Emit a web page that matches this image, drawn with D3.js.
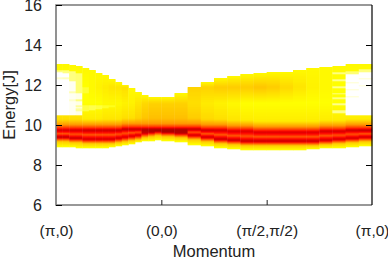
<!DOCTYPE html>
<html>
<head>
<meta charset="utf-8">
<script src="https://cdn.jsdelivr.net/npm/d3@7"></script>
<style>
html, body { margin: 0; padding: 0; background: white; }
svg text { font-family: "Liberation Sans", sans-serif; fill: #222; }
</style>
</head>
<body>
<div id="chart"></div>
<script>
// momentum path tick labels, energy ticks
const kTicks = [0, 8, 16, 24];
const kLabels = ["(π,0)", "(0,0)", "(π/2,π/2)", "(π,0)"];
const energyTicks = [6, 8, 10, 12, 14, 16];

// column edges along the path: half steps on the first leg
const kEdges = [0, .5, 1, 1.5, 2, 2.5, 3, 3.5, 4, 4.5, 5, 5.5, 6, 6.5, 7, 7.5, 8,
  9, 10, 11, 12, 13, 14, 15, 16, 17, 18, 19, 20, 21, 22, 23, 24];

// per column
const eTop = [13.05, 13.05, 13.0, 12.95, 12.85, 12.75, 12.6, 12.5, 12.3, 12.15, 12.0, 11.85, 11.65, 11.5, 11.4, 11.4,
  11.4, 11.6, 11.9, 12.15, 12.35, 12.45, 12.55, 12.6, 12.65, 12.65, 12.75, 12.85, 12.9, 12.95, 13.05, 13.05];
const eBot = [8.9, 8.9, 8.9, 8.85, 8.85, 8.85, 8.85, 8.85, 8.9, 8.95, 9.0, 9.05, 9.15, 9.2, 9.2, 9.25,
  9.2, 9.15, 9.0, 8.95, 8.85, 8.8, 8.75, 8.75, 8.75, 8.75, 8.75, 8.8, 8.85, 8.85, 8.9, 8.95];
const bandHi = [9.75, 9.75, 9.75, 9.75, 9.75, 9.75, 9.75, 9.75, 9.75, 9.75, 9.8, 9.8, 9.8, 9.8, 9.8, 9.8,
  9.8, 9.8, 9.8, 9.75, 9.75, 9.7, 9.7, 9.65, 9.65, 9.65, 9.65, 9.65, 9.7, 9.7, 9.75, 9.75];
const bandLo = [9.4, 9.4, 9.35, 9.35, 9.3, 9.3, 9.3, 9.3, 9.3, 9.35, 9.4, 9.45, 9.5, 9.6, 9.65, 9.7,
  9.65, 9.6, 9.5, 9.4, 9.3, 9.25, 9.2, 9.2, 9.2, 9.2, 9.2, 9.2, 9.25, 9.3, 9.35, 9.4];
const hiLevel = [3.5, 3.5, 3.5, 3.5, 3.6, 3.6, 3.6, 3.6, 3.6, 3.6, 3.7, 3.7, 3.7, 3.8, 3.8, 3.8,
  3.8, 3.8, 3.7, 3.6, 3.5, 3.4, 3.4, 3.4, 3.4, 3.4, 3.4, 3.4, 3.5, 3.5, 3.6, 3.7];
const loLevel = [3.7, 3.7, 3.6, 3.6, 3.5, 3.5, 3.5, 3.5, 3.5, 3.5, 3.4, 3.4, 3.4, 3.5, 3.7, 3.8,
  3.8, 3.7, 3.5, 3.5, 3.6, 3.6, 3.6, 3.6, 3.6, 3.6, 3.6, 3.6, 3.5, 3.5, 3.5, 3.5];
const midLevel = [1.1, 1.1, 1.1, 1.1, 1.0, 1.0, 1.0, 1.05, 1.05, 1.05, 1.1, 1.1, 1.2, 1.3, 1.35, 1.35,
  1.35, 1.35, 1.25, 1.15, 1.1, 1.05, 1.0, 1.0, 1.0, 1.0, 1.0, 1.0, 1.0, 1.0, 1.0, 1.0];
const upLevel = [1.0, 1.0, 1.0, 1.0, 1.0, 1.05, 1.1, 1.15, 1.2, 1.2, 1.25, 1.3, 1.35, 1.35, 1.35, 1.35,
  1.35, 1.35, 1.35, 1.35, 1.4, 1.4, 1.4, 1.45, 1.4, 1.3, 1.2, 1.1, 1.05, 1.0, 1.0, 1.0];

// pale and white patches: column, energy from, energy to, level
const patches = [
  [0, 10.5, 12.65, 0], [1, 10.5, 12.6, 0], [2, 10.5, 12.2, .05], [3, 10.5, 11.6, .1],
  [0, 12.65, 12.75, .5], [1, 12.6, 12.75, .5], [0, 12.3, 12.4, .2], [1, 12.3, 12.4, .25],
  [2, 12.2, 12.7, .5], [2, 11.6, 11.7, .3], [2, 11.2, 11.3, .2],
  [3, 11.6, 12.6, .55], [3, 11.2, 11.3, .5], [3, 10.9, 11.0, .4], [3, 10.7, 10.85, .4],
  [4, 10.7, 11.0, .75], [4, 11.6, 11.9, .8], [5, 10.75, 11.0, .7], [6, 10.8, 11.0, .75], [7, 10.85, 11.0, .85], [8, 10.9, 11.0, .9],
  [30, 10.5, 12.55, 0], [31, 10.5, 12.65, 0], [30, 12.55, 12.7, .55], [31, 12.65, 12.8, .5],
  [30, 12.1, 12.15, .2], [30, 11.75, 11.8, .2], [30, 11.4, 11.45, .2], [31, 12.3, 12.35, .2], [31, 11.95, 12.0, .15],
  [29, 10.6, 10.75, .45], [29, 11.0, 11.1, .45], [29, 11.3, 11.4, .5], [29, 11.55, 11.6, .5], [29, 11.85, 11.95, .45], [29, 12.2, 12.3, .45], [29, 12.55, 12.65, .5]
];

const width = 388, height = 260;
const margin = { top: 5, left: 56, right: 16, bottom: 55 };

let svg = d3.select("#chart")
  .append("svg")
  .attr("width", width)
  .attr("height", height);

const x = d3.scaleLinear().domain([0, 24]).range([margin.left, width - margin.right]);
const y = d3.scaleLinear().domain([6, 16]).range([height - margin.bottom, margin.top]);
const color = d3.scaleLinear()
  .domain([0, 1, 3, 4])
  .range(["#ffffff", "#ffff00", "#ff0000", "#990000"])
  .clamp(true);

// stops of one column's vertical profile
function columnStops(i) {
  let stops = [
    [eBot[i], 0.95],
    [bandLo[i] - 0.22, 1.4],
    [bandLo[i] - 0.1, 2.4],
    [bandLo[i], loLevel[i]],
    [bandHi[i], hiLevel[i]],
    [bandHi[i] + 0.1, 2.7],
    [bandHi[i] + 0.28, 1.8],
    [bandHi[i] + 0.55, midLevel[i] + 0.15],
    [11.1, midLevel[i]],
    [11.9, upLevel[i]],
    [eTop[i], 1.05]
  ];
  if (bandHi[i] - bandLo[i] > 0.25) {
    stops.push([(bandHi[i] + bandLo[i]) / 2, 2.3]);
  }
  stops = stops.filter(s => s[0] <= eTop[i]).sort((a, b) => a[0] - b[0]);
  return stops;
}

const rowStep = 0.05;
const cells = [];
kEdges.slice(0, -1).forEach((k, i) => {
  const stops = columnStops(i);
  const profile = d3.scaleLinear().domain(stops.map(s => s[0])).range(stops.map(s => s[1]));
  d3.range(eBot[i], eTop[i] - 0.001, rowStep).forEach(e => {
    let level = profile(e + rowStep / 2);
    patches.filter(p => p[0] == i && e + rowStep / 2 >= p[1] && e + rowStep / 2 < p[2])
      .forEach(p => { level = p[3]; });
    cells.push({ k0: k, k1: kEdges[i + 1], e: e, level: level });
  });
});

svg.append("g")
  .selectAll("rect")
  .data(cells)
  .join("rect")
  .attr("x", d => x(d.k0))
  .attr("width", d => x(d.k1) - x(d.k0) + 0.3)
  .attr("y", d => y(d.e + rowStep))
  .attr("height", y(0) - y(rowStep) + 0.3)
  .attr("fill", d => color(d.level));

// frame: grey on three sides, the right one is black
const frame = svg.append("g").attr("fill", "none");
frame.append("path")
  .attr("d", `M${x(24)},${y(16)}H${x(0)}V${y(6)}H${x(24)}`)
  .attr("stroke", "#777")
  .attr("stroke-width", 1.6);
frame.append("line")
  .attr("x1", x(24)).attr("x2", x(24))
  .attr("y1", y(16)).attr("y2", y(6))
  .attr("stroke", "#000")
  .attr("stroke-width", 1.2);

// Adding the Y axis
const yAxis = svg.append("g")
  .attr("transform", `translate(${margin.left}, 0)`)
  .call(d3.axisLeft(y).tickValues(energyTicks).tickFormat(d3.format("d")).tickSize(-6).tickPadding(14));
yAxis.select(".domain").remove();
yAxis.selectAll("line").attr("stroke", "#000");
yAxis.selectAll("text").style("font-size", "16px");

// mirror ticks on the right
svg.append("g")
  .attr("transform", `translate(${x(24)}, 0)`)
  .call(d3.axisRight(y).tickValues(energyTicks.slice(1, -1)).tickFormat("").tickSize(-6))
  .call(g => g.select(".domain").remove())
  .selectAll("line").attr("stroke", "#000");

// Adding the X axis
const xAxis = svg.append("g")
  .attr("transform", `translate(0, ${y(6)})`)
  .call(d3.axisBottom(x).tickValues(kTicks).tickFormat((d, i) => kLabels[i]).tickSize(-5).tickPadding(20));
xAxis.select(".domain").remove();
xAxis.selectAll("line").attr("stroke", "#222").filter((d, i) => i == 0 || i == 3).remove();
xAxis.selectAll("text").style("font-size", "15.5px");

//adding the x label
svg.append("text")
  .attr("text-anchor", "middle")
  .attr("x", 214)
  .attr("y", 257)
  .style("font-size", "16.5px")
  .text("Momentum");

//adding the y label
svg.append("text")
  .attr("text-anchor", "middle")
  .attr("transform", "translate(15, 105) rotate(-90)")
  .style("font-size", "16.5px")
  .text("Energy[J]");
</script>
</body>
</html>
